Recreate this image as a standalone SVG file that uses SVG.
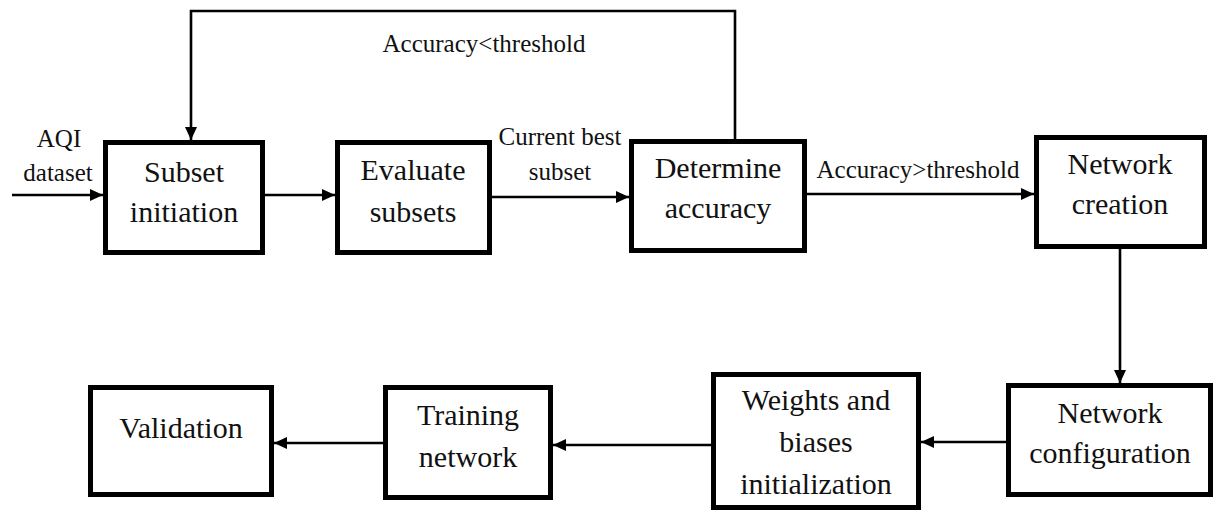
<svg xmlns="http://www.w3.org/2000/svg" width="1218" height="513" viewBox="0 0 1218 513">
<defs>
<marker id="ah" markerUnits="userSpaceOnUse" markerWidth="14" markerHeight="12" refX="13" refY="6" orient="auto">
<path d="M0,0 L13,6 L0,12 z" fill="#000"/>
</marker>
<style>
.box{fill:#fff;stroke:#000;stroke-width:5}
.t{font-family:'Liberation Serif','Tinos','DejaVu Serif',serif;font-size:30px;fill:#111;text-anchor:middle}
.l{font-family:'Liberation Serif','Tinos','DejaVu Serif',serif;font-size:25px;fill:#111;text-anchor:middle}
.c{fill:none;stroke:#000;stroke-width:2.6;marker-end:url(#ah)}
</style>
</defs>
<rect width="1218" height="513" fill="#fff"/>
<g id="connectors">
<line class="c" x1="12" y1="195" x2="103" y2="195"/>
<line class="c" x1="265" y1="195" x2="335" y2="195"/>
<line class="c" x1="492" y1="197" x2="629" y2="197"/>
<line class="c" x1="807" y1="194" x2="1034" y2="194"/>
<path class="c" d="M735,139 V11 H191 V140"/>
<line class="c" x1="1120" y1="249" x2="1120" y2="383"/>
<line class="c" x1="1006" y1="442" x2="921" y2="442"/>
<line class="c" x1="711" y1="445" x2="553" y2="445"/>
<line class="c" x1="383" y1="443" x2="274" y2="443"/>
<text class="l" x="59" y="147">AQI</text>
<text class="l" x="58" y="181">dataset</text>
<text class="l" x="560" y="145">Current best</text>
<text class="l" x="560" y="180">subset</text>
<text class="l" x="918" y="178">Accuracy&gt;threshold</text>
<text class="l" x="484" y="52">Accuracy&lt;threshold</text>
</g>
<g id="subset-initiation">
<rect class="box" x="105.5" y="142.5" width="157" height="110"/>
<text class="t" x="184" y="182">Subset</text>
<text class="t" x="184" y="222">initiation</text>
</g>
<g id="evaluate-subsets">
<rect class="box" x="337.5" y="142.5" width="152" height="110"/>
<text class="t" x="413" y="180">Evaluate</text>
<text class="t" x="413" y="222">subsets</text>
</g>
<g id="determine-accuracy">
<rect class="box" x="631.5" y="141.5" width="173" height="109"/>
<text class="t" x="718" y="178">Determine</text>
<text class="t" x="718" y="218">accuracy</text>
</g>
<g id="network-creation">
<rect class="box" x="1036.5" y="137.5" width="168" height="109"/>
<text class="t" x="1120" y="174">Network</text>
<text class="t" x="1120" y="214">creation</text>
</g>
<g id="network-configuration">
<rect class="box" x="1008.5" y="385.5" width="202" height="109"/>
<text class="t" x="1110" y="423">Network</text>
<text class="t" x="1110" y="463">configuration</text>
</g>
<g id="weights-biases">
<rect class="box" x="713.5" y="374.5" width="205" height="133"/>
<text class="t" x="816" y="410">Weights and</text>
<text class="t" x="816" y="452">biases</text>
<text class="t" x="816" y="494">initialization</text>
</g>
<g id="training-network">
<rect class="box" x="385.5" y="387.5" width="165" height="110"/>
<text class="t" x="468" y="425">Training</text>
<text class="t" x="468" y="467">network</text>
</g>
<g id="validation">
<rect class="box" x="90.5" y="387.5" width="181" height="107"/>
<text class="t" x="181" y="438">Validation</text>
</g>
</svg>
